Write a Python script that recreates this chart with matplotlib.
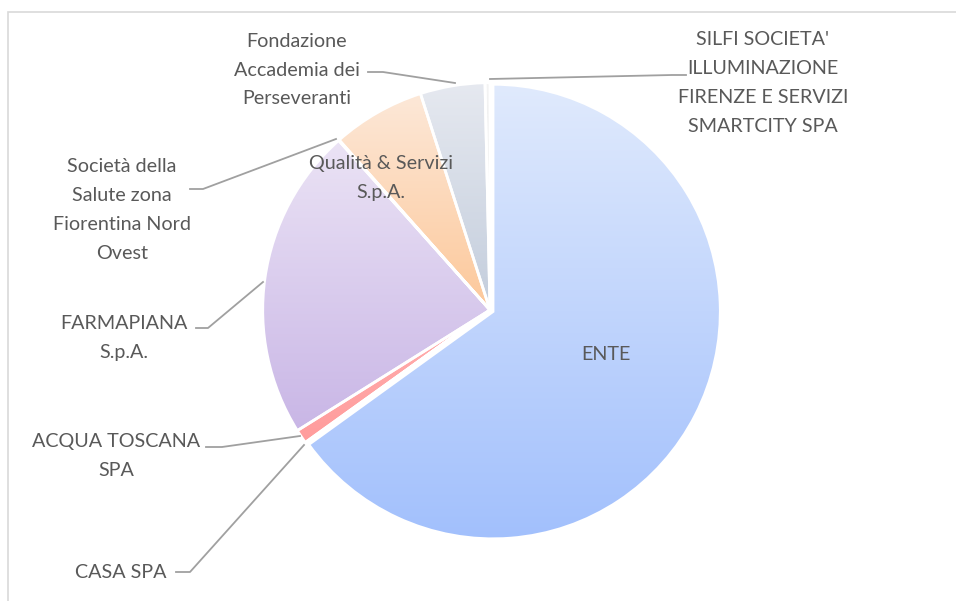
import matplotlib
matplotlib.use("Agg")
import matplotlib.pyplot as plt
import numpy as np
from matplotlib.colors import LinearSegmentedColormap
from matplotlib.patches import Rectangle, Wedge
from matplotlib.lines import Line2D

labels = ["ENTE", "CASA SPA", "ACQUA TOSCANA\nSPA", "FARMAPIANA\nS.p.A.",
          "Società della\nSalute zona\nFiorentina Nord\nOvest",
          "Qualità & Servizi\nS.p.A.", "Fondazione\nAccademia dei\nPerseveranti",
          "SILFI SOCIETA'\nILLUMINAZIONE\nFIRENZE E SERVIZI\nSMARTCITY SPA"]
values = [65.05, 0.05, 1.0, 22.3, 0.05, 6.6, 4.6, 0.35]
top_colors = ["#e0eafd", "#ffb0b0", "#ffb0b0", "#ebe3f5", "#d8ecd0", "#fde8d8", "#e6e9f0", "#f4f4f4"]
bot_colors = ["#a2c0fc", "#ff9c9c", "#ff9c9c", "#c9b6e6", "#b8dca8", "#fcc89a", "#c3cddc", "#e0e0e0"]
explode = [0.015, 0, 0, 0, 0, 0, 0, 0]

W, H = 956, 601
plt.rcParams['font.family'] = ['Lato', 'DejaVu Sans']
fig = plt.figure(figsize=(W / 100, H / 100), dpi=100)

# chart border
fig.patches.append(Rectangle((8 / W, -0.1), 1.2, (H - 12) / H + 0.1, transform=fig.transFigure,
                             fill=False, edgecolor="#d9d9d9", linewidth=1.2))

cx, cy, side = 490, 310, 500
ax = fig.add_axes([(cx - side / 2) / W, (H - cy - side / 2) / H, side / W, side / H])

wedges, _ = ax.pie(values, startangle=90, counterclock=False, radius=1.0,
                   explode=explode, colors=top_colors,
                   wedgeprops=dict(edgecolor="white", linewidth=2))

grad = np.linspace(0, 1, 256).reshape(-1, 1)
for w, ct, cb in zip(wedges, top_colors, bot_colors):
    bb = w.get_path().get_extents(w.get_patch_transform())
    cmap = LinearSegmentedColormap.from_list("g", [ct, cb])
    im = ax.imshow(grad, cmap=cmap, extent=[bb.x0, bb.x1, bb.y0, bb.y1], origin="upper",
                   aspect="auto", zorder=w.get_zorder() + 0.1, interpolation="bilinear")
    im.set_clip_path(w)
    ax.add_patch(Wedge(w.center, w.r, w.theta1, w.theta2, facecolor="none",
                       edgecolor="white", linewidth=2, zorder=w.get_zorder() + 0.2))
ax.set_xlim(-1.1, 1.1)
ax.set_ylim(-1.1, 1.1)
ax.set_aspect("equal")
ax.axis("off")

txt = "#595959"
lc = "#a0a0a0"
fs = 14.2
ls = 1.85

def px(x, y):
    return (x / W, 1 - y / H)

label_pos = {
    0: (606, 355),
    1: (121, 573),
    2: (116, 456),
    3: (124, 338),
    4: (122, 210),
    5: (381, 178),
    6: (297, 70),
    7: (763, 83),
}
for i, (x, y) in label_pos.items():
    fig.text(*px(x, y), labels[i], ha="center", va="center", fontsize=fs, color=txt,
             linespacing=ls)

leaders = [
    [(304, 445), (190, 572), (176, 572)],
    [(300, 436), (222, 447), (206, 447)],
    [(263, 282), (208, 328), (196, 328)],
    [(336, 139), (203, 189), (190, 189)],
    [(455, 83), (383, 72), (368, 72)],
    [(490, 79), (672, 75), (686, 75)],
]
for pts in leaders:
    xs = [p[0] / W for p in pts]
    ys = [1 - p[1] / H for p in pts]
    fig.add_artist(Line2D(xs, ys, color=lc, linewidth=1.3, transform=fig.transFigure))

fig.savefig("out.png", dpi=100)
